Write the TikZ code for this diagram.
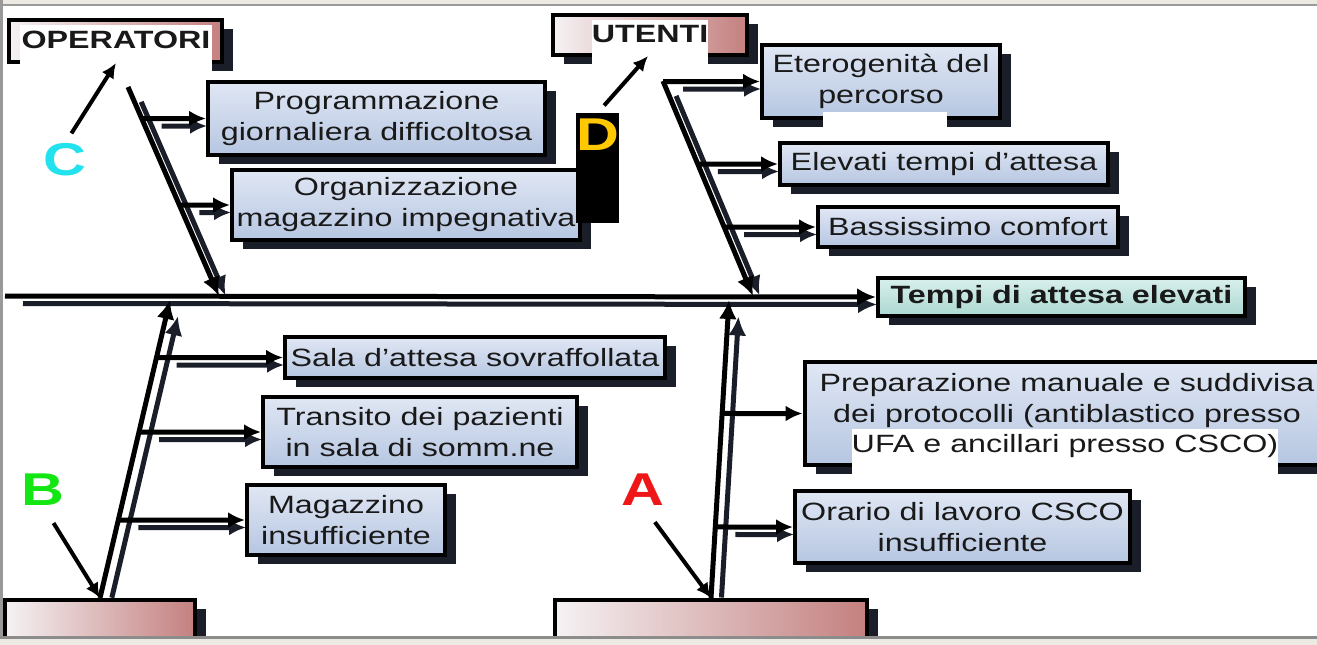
\documentclass[tikz,border=0pt]{standalone}
\usepackage{fontspec}
\setmainfont{Liberation Sans}[FakeStretch=1.29]
\usepackage{tikz}
\usetikzlibrary{arrows.meta,shadows,positioning}

\definecolor{boxtop}{RGB}{224,231,244}
\definecolor{boxbottom}{RGB}{182,198,225}
\definecolor{effecttop}{RGB}{216,239,236}
\definecolor{effectbottom}{RGB}{172,216,209}
\definecolor{groupleft}{RGB}{245,242,244}
\definecolor{groupright}{RGB}{196,128,127}
\definecolor{shade}{RGB}{26,30,40}
\definecolor{frame}{RGB}{236,234,227}
\definecolor{cyanC}{RGB}{34,226,238}
\definecolor{yellowD}{RGB}{255,200,0}
\definecolor{greenB}{RGB}{20,230,20}
\definecolor{redA}{RGB}{238,22,22}

\begin{document}
\begin{tikzpicture} [
    x = 1pt, y = -1pt,
    every node/.style = { inner sep = 0, font = \fontsize{25}{31}\selectfont, text = black!90 },
    cause/.style = { draw, line width = 4pt, top color = boxtop, bottom color = boxbottom, align = center,
        drop shadow={shadow xshift=11pt,shadow yshift=-9pt,fill=shade,opacity=1} },
    effect/.style = { cause, top color = effecttop, bottom color = effectbottom,
        font = \fontsize{25}{30}\selectfont\bfseries },
    group/.style = { cause, left color = groupleft, right color = groupright },
    grouplabel/.style = { fill = white, anchor = north, font = \fontsize{25}{30}\selectfont\bfseries },
    letter/.style = { font = \fontsize{46}{46}\selectfont\bfseries },
    bone/.style = { line width = 5pt, -{Latex[length = 19pt, width = 18pt]},
        preaction = { draw = shade, line width = 5pt, shorten < = 8pt, shorten > = 9pt,
            -{Latex[length = 19pt, width = 18pt]},
            transform canvas = { shift = {(10pt,-7.5pt)} } } },
    twig/.style = { line width = 5pt, -{Latex[length = 17pt, width = 16pt]},
        preaction = { draw = shade, line width = 5pt, shorten < = 10pt, shorten > = 9pt,
            -{Latex[length = 17pt, width = 16pt]},
            transform canvas = { shift = {(10pt,-7.5pt)} } } },
    pointer/.style = { line width = 4pt, -{Latex[length = 15pt, width = 14pt]} }
    ]

    \useasboundingbox (0,0) rectangle (1317,645);
    \fill[white] (0,0) rectangle (1317,645);

    % groups
    \node[group, minimum width = 213pt, minimum height = 42pt] (operatori) at (115.5,41) {};
    \node[grouplabel, minimum width = 192pt, text height = 23pt, text depth = 42pt] (oplabel) at (116,25) {OPERATORI};
    \node[group, minimum width = 194pt, minimum height = 40pt] (utenti) at (650,35) {};
    \node[grouplabel, minimum width = 114pt, text height = 22pt, text depth = 38pt] (utlabel) at (650,20) {UTENTI};
    \node[group, minimum width = 190pt, minimum height = 38pt] (groupB) at (100,619) {};
    \node[group, minimum width = 312pt, minimum height = 38pt] (groupA) at (711,619) {};

    % effect
    \node[effect, minimum width = 367pt, minimum height = 38pt] (tempi) at (1061.5,297) {Tempi di attesa elevati};

    % causes
    \node[cause, minimum width = 337pt, minimum height = 73pt] (programmazione) at (376.5,118.5) {Programmazione\\giornaliera difficoltosa};
    \node[cause, minimum width = 348pt, minimum height = 70pt] (organizzazione) at (406,205) {Organizzazione\\magazzino impegnativa};
    \node[cause, minimum width = 238pt, minimum height = 73pt] (eterogenita) at (881,81.5) {Eterogenità del\\percorso};
    \fill[white] (823,112) rectangle (947,140);
    \node[cause, minimum width = 328pt, minimum height = 42pt] (attesa) at (944,164) {Elevati tempi d’attesa};
    \node[cause, minimum width = 300pt, minimum height = 40pt] (comfort) at (968,227) {Bassissimo comfort};
    \node[cause, minimum width = 380pt, minimum height = 41pt] (sala) at (475,357.5) {Sala d’attesa sovraffollata};
    \node[cause, minimum width = 314pt, minimum height = 70pt] (transito) at (420,432) {Transito dei pazienti\\in sala di somm.ne};
    \node[cause, minimum width = 198pt, minimum height = 70pt] (magazzino) at (346,520) {Magazzino\\insufficiente};
    \node[cause, minimum width = 525pt, minimum height = 103pt] (preparazione) at (1067,413.5) {Preparazione manuale e suddivisa\\dei protocolli (antiblastico presso\\\mbox{}};
    \node[grouplabel, font = \fontsize{25}{31}\selectfont, minimum width = 426pt, text height = 23pt, text depth = 48pt] (protocolli) at (1065,429) {UFA e ancillari presso CSCO)};
    \node[cause, minimum width = 335pt, minimum height = 72pt] (orario) at (962.5,527) {Orario di lavoro CSCO\\insufficiente};

    % bones
    \coordinate (origin) at (5,296);
    \coordinate (cTop) at (128,87);
    \coordinate (cEnd) at (219,296);
    \coordinate (dTop) at (663,81);
    \coordinate (dEnd) at (753,296);
    \coordinate (bEnd) at (170,300);
    \coordinate (aEnd) at (729,300);

    \draw[bone] (origin) -- (tempi.west);
    \draw[bone] (cTop) -- (cEnd);
    \draw[bone] (dTop) -- (dEnd);
    \draw[bone] (groupB.north) -- (bEnd);
    \draw[bone] (groupA.north) -- (aEnd);

    \draw[twig] (intersection of cTop--cEnd and programmazione.west--programmazione.east) -- (programmazione.west);
    \draw[twig] (intersection of cTop--cEnd and organizzazione.west--organizzazione.east) -- (organizzazione.west);
    \draw[twig] (intersection of dTop--dEnd and eterogenita.west--eterogenita.east) -- (eterogenita.west);
    \draw[twig] (intersection of dTop--dEnd and attesa.west--attesa.east) -- (attesa.west);
    \draw[twig] (intersection of dTop--dEnd and comfort.west--comfort.east) -- (comfort.west);
    \draw[twig] (intersection of groupB.north--bEnd and sala.west--sala.east) -- (sala.west);
    \draw[twig] (intersection of groupB.north--bEnd and transito.west--transito.east) -- (transito.west);
    \draw[twig] (intersection of groupB.north--bEnd and magazzino.west--magazzino.east) -- (magazzino.west);
    \draw[line width = 5pt, -{Latex[length = 17pt, width = 16pt]}] (intersection of groupA.north--aEnd and preparazione.west--preparazione.east) -- (preparazione.west);
    \draw[twig] (intersection of groupA.north--aEnd and orario.west--orario.east) -- (orario.west);

    % letters
    \node[letter, text = cyanC] (C) at (65,160) {C};
    \node[letter, text = yellowD, fill = black, anchor = north, minimum width = 39pt, text height = 37pt, text depth = 73pt] (D) at (597.5,113) {D};
    \node[letter, text = greenB] (B) at (43,490) {B};
    \node[letter, text = redA] (A) at (643,490) {A};

    \coordinate (opTip) at (116,63);
    \coordinate (utTip) at (648,56);
    \draw[pointer, shorten < = 12pt] (C.north) -- (opTip);
    \draw[pointer, shorten < = 10pt] (D.north) -- (utTip);
    \draw[pointer, shorten < = 20pt] (B.south) -- (groupB.north);
    \draw[pointer, shorten < = 20pt] (A.south) -- (groupA.north);

    % window frame
    \fill[frame] (0,0) rectangle (1317,4);
    \fill[black!40] (0,4) rectangle (1317,6);
    \fill[black!40] (0,0) rectangle (2.5,645);
    \fill[black!45] (0,636) rectangle (1317,638.5);
    \fill[frame] (0,638.5) rectangle (1317,645);

\end{tikzpicture}
\end{document}
